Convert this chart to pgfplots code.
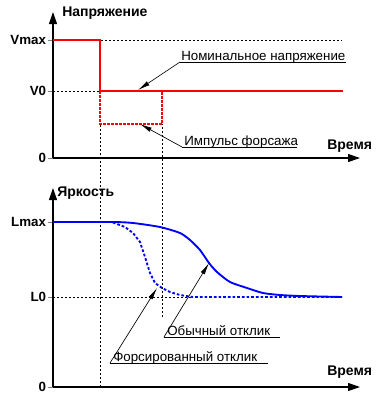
\documentclass[border=0pt]{standalone}
\usepackage{fontspec}
\setmainfont{Liberation Sans}
\usepackage{pgfplots}
\pgfplotsset{compat=1.18}
\usetikzlibrary{arrows.meta}
\pgfplotsset{
  myax/.style={scale only axis, anchor=south west, width=230.25pt, xmin=0, xmax=307, ymin=0,
    axis lines=left, axis line style={line width=0.8pt, -{Triangle[length=9pt,width=6pt]}},
    xtick=\empty, tick align=outside, major tick length=4pt, clip=false,
    /pgf/number format/assume math mode=true,
    yticklabel style={font=\fontsize{10}{11}\selectfont\bfseries, inner sep=1pt}},
}
\tikzset{
  guide/.style={black, line width=0.6pt, dash pattern=on 1.5pt off 1.5pt},
  lead/.style={black, line width=0.5pt},
  arr/.style={black, line width=0.5pt, -{Latex[length=9pt,width=3.5pt]}},
  big/.style={font=\fontsize{10.5}{12}\selectfont\bfseries},
}
\begin{document}
\begin{tikzpicture}[font=\fontsize{10}{11}\selectfont]
\path[use as bounding box] (0,0) rectangle (289.5pt,-297.75pt);
% ---------------- top: voltage ----------------
\begin{axis}[myax, at={(39.75pt,-118.5pt)}, height=109.5pt, ymax=146,
  ytick={0,67,118}, yticklabels={0,V0,Vmax}]
\addplot[guide] coordinates {(0,118) (289,118)};
\addplot[guide] coordinates {(0,67) (47,67)};
\addplot[red, line width=1.5pt] coordinates {(0,118) (47,118) (47,67) (290,67)};
\addplot[red, line width=1.5pt, dash pattern=on 2pt off 1pt] coordinates {(47,67) (47,34) (109,34) (109,67)};
\draw[lead] (axis cs:293,96) -- (axis cs:127,96);
\draw[arr] (axis cs:127,96) -- (axis cs:85,68);
\node[anchor=base west, inner sep=0] at (axis cs:128,98) {Номинальное напряжение};
\draw[lead] (axis cs:244,11) -- (axis cs:129,11);
\draw[arr] (axis cs:129,11) -- (axis cs:87,34);
\node[anchor=base west, inner sep=0] at (axis cs:131,13) {Импульс форсажа};
\node[big, anchor=west, inner sep=0] at (axis cs:9,145) {Напряжение};
\node[big, anchor=west, inner sep=0] at (axis cs:274,12) {Время};
\end{axis}
% ---------------- bottom: brightness ----------------
\begin{axis}[myax, at={(39.75pt,-290.25pt)}, height=149.25pt, ymax=199,
  ytick={0,90,165}, yticklabels={0,L0,Lmax}]
\addplot[guide] coordinates {(0,90) (140,90)};
\addplot[guide] coordinates {(47,0) (47,263)};
\addplot[guide] coordinates {(109,70) (109,263)};
\addplot[blue, line width=1.4pt, dash pattern=on 2pt off 1.5pt] coordinates {
  (60,164.5) (72,160) (80,154) (87,145) (92,130) (97,114) (102,104) (109,99)
  (117,95) (127,92) (140,90) (289,90)};
\addplot[blue, line width=1.4pt, smooth, tension=0.4] coordinates {
  (0,165) (60,165) (80,164) (107,160) (127,154) (137,147) (147,137) (156,124)
  (164,115) (177,105) (194,99) (210,94) (227,92) (247,91) (289,90)};
\draw[lead] (axis cs:227,50) -- (axis cs:111,50);
\draw[arr] (axis cs:111,50) -- (axis cs:156,124);
\node[anchor=base west, inner sep=0] at (axis cs:114,52) {Обычный отклик};
\draw[lead] (axis cs:215,24) -- (axis cs:57,24);
\draw[arr] (axis cs:57,24) -- (axis cs:104,99);
\node[anchor=base west, inner sep=0] at (axis cs:60,26) {Форсированный отклик};
\node[big, anchor=west, inner sep=0] at (axis cs:4,194) {Яркость};
\node[big, anchor=west, inner sep=0] at (axis cs:274,15) {Время};
\end{axis}
\end{tikzpicture}
\end{document}
